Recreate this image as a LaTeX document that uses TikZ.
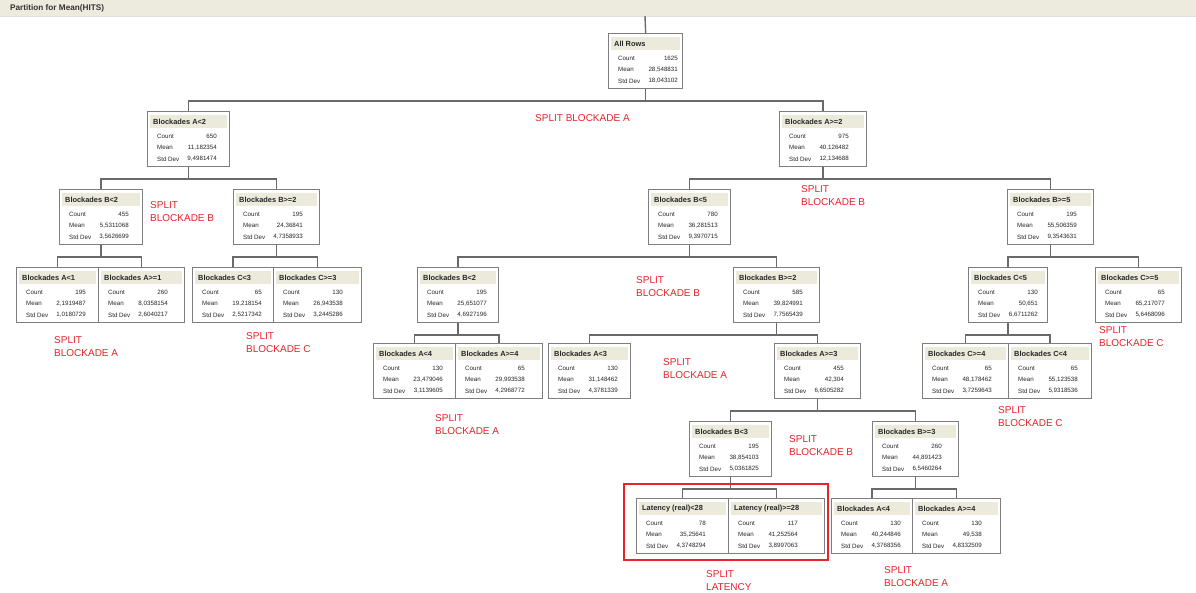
\documentclass[tikz,border=0pt]{standalone}
\usepackage{fontspec}
\setmainfont{Liberation Sans}
\usetikzlibrary{calc}

\definecolor{hdrfill}{HTML}{ECEADB}
\definecolor{barfill}{HTML}{ECEBDE}
\definecolor{boxline}{HTML}{7E7E7E}
\definecolor{conn}{HTML}{6A6A6A}
\definecolor{splitred}{HTML}{E8232B}

\tikzset{
  statbox/.style={draw=boxline, fill=white, line width=1.3pt, rectangle,
    inner sep=0pt, minimum height=55pt, anchor=north west},
  boxtitle/.style={font=\bfseries\fontsize{7.4}{8}\selectfont, inner sep=0pt,
    anchor=west, text=black!85},
  statlbl/.style={font=\fontsize{6.2}{7}\selectfont, inner sep=0pt, anchor=west, text=black!85},
  statval/.style={font=\fontsize{6.2}{7}\selectfont, inner sep=0pt, anchor=east, text=black!85},
  link/.style={draw=conn, line width=1.4pt},
  splitnote/.style={font=\fontsize{10}{13}\selectfont, text=splitred, align=left,
    inner sep=0pt, anchor=north west},
}

% statistics box: name, left, top, width, title, count, mean, std dev
\newcommand\statnode[8]{%
  \node[statbox, minimum width=#4pt] (#1) at (#2,#3) {};
  \fill[hdrfill] ($(#1.north west)+(3,4)$) rectangle ($(#1.north east)+(-3,17)$);
  \node[boxtitle] (#1-t) at ($(#1.north west)+(6,10.5)$) {#5};
  \node[statlbl] (#1-cl) at ($(#1.north west)+(10,25)$) {Count};
  \node[statval] (#1-cv) at ($(#1.north west)+(70,25)$) {#6};
  \node[statlbl] (#1-ml) at ($(#1.north west)+(10,36.5)$) {Mean};
  \node[statval] (#1-mv) at ($(#1.north west)+(70,36.5)$) {#7};
  \node[statlbl] (#1-sl) at ($(#1.north west)+(10,48)$) {Std Dev};
  \node[statval] (#1-sv) at ($(#1.north west)+(70,48)$) {#8};
}

% parent to its two children
\newcommand\branch[3]{%
  \draw[link] (#1.south) -- ++(0,11.5) coordinate (#1-j);
  \draw[link] (#2.north) |- (#1-j) -| (#3.north);
}

% red split annotation: name, left, centre of first line, text
\newcommand\splitlabel[4]{%
  \node[splitnote] (#1) at (#2,#3-3.6) {#4};
}

\begin{document}
\begin{tikzpicture}[x=1pt, y=-1pt]
  \useasboundingbox (0,0) rectangle (1196,592);
  \fill[white] (0,0) rectangle (1196,592);

  % title bar
  \fill[barfill] (0,0) rectangle (1196,16);
  \draw[black!12] (0,16) -- (1196,16);
  \node[font=\bfseries\fontsize{8.2}{9}\selectfont, text=black!80, anchor=west, inner sep=0pt]
    (title) at (10,8.5) {Partition for Mean(HITS)};

  % boxes
  \statnode{root}{608}{33}{74}{All Rows}{1625}{28,548831}{18,043102}

  \statnode{a2l}{147}{111}{82}{Blockades A<2}{650}{11,182354}{9,4981474}
  \statnode{a2r}{779}{111}{87}{Blockades A>=2}{975}{40,126482}{12,134688}

  \statnode{bl2}{59}{189}{83}{Blockades B<2}{455}{5,5311068}{3,5626699}
  \statnode{bl2r}{233}{189}{86}{Blockades B>=2}{195}{24,36841}{4,7358933}
  \statnode{b5l}{648}{189}{82}{Blockades B<5}{780}{36,281513}{9,3970715}
  \statnode{b5r}{1007}{189}{86}{Blockades B>=5}{195}{55,506359}{9,3543631}

  \statnode{a1l}{16}{267}{82}{Blockades A<1}{195}{2,1919487}{1,0180729}
  \statnode{a1r}{98}{267}{86}{Blockades A>=1}{260}{8,0358154}{2,6040217}
  \statnode{c3l}{192}{267}{81}{Blockades C<3}{65}{19,218154}{2,5217342}
  \statnode{c3r}{273}{267}{88}{Blockades C>=3}{130}{26,943538}{3,2445286}
  \statnode{mb2l}{417}{267}{81}{Blockades B<2}{195}{25,651077}{4,6927196}
  \statnode{mb2r}{733}{267}{86}{Blockades B>=2}{585}{39,824991}{7,7565439}
  \statnode{c5l}{968}{267}{79}{Blockades C<5}{130}{50,651}{6,6711262}
  \statnode{c5r}{1095}{267}{86}{Blockades C>=5}{65}{65,217077}{5,6468096}

  \statnode{ma4l}{373}{343}{82}{Blockades A<4}{130}{23,479046}{3,1139605}
  \statnode{ma4r}{455}{343}{87}{Blockades A>=4}{65}{29,993538}{4,2968772}
  \statnode{ma3l}{548}{343}{82}{Blockades A<3}{130}{31,148462}{4,3781339}
  \statnode{ma3r}{774}{343}{86}{Blockades A>=3}{455}{42,304}{6,6505282}
  \statnode{c4l}{922}{343}{86}{Blockades C>=4}{65}{48,178462}{3,7259643}
  \statnode{c4r}{1008}{343}{83}{Blockades C<4}{65}{55,123538}{5,9318536}

  \statnode{b3l}{689}{421}{82}{Blockades B<3}{195}{38,854103}{5,0361825}
  \statnode{b3r}{872}{421}{86}{Blockades B>=3}{260}{44,891423}{6,5460264}

  \statnode{latl}{636}{498}{92}{Latency (real)<28}{78}{35,25641}{4,3748294}
  \statnode{latr}{728}{498}{96}{Latency (real)>=28}{117}{41,252564}{3,8997063}
  \statnode{ba4l}{831}{498}{81}{Blockades A<4}{130}{40,244846}{4,3768356}
  \statnode{ba4r}{912}{498}{88}{Blockades A>=4}{130}{49,538}{4,8332509}

  % connectors
  \coordinate (top) at (645,16);
  \draw[link] (top) -- (root.north);
  \branch{root}{a2l}{a2r}
  \branch{a2l}{bl2}{bl2r}
  \branch{a2r}{b5l}{b5r}
  \branch{bl2}{a1l}{a1r}
  \branch{bl2r}{c3l}{c3r}
  \branch{b5l}{mb2l}{mb2r}
  \branch{b5r}{c5l}{c5r}
  \branch{mb2l}{ma4l}{ma4r}
  \branch{mb2r}{ma3l}{ma3r}
  \branch{c5l}{c4l}{c4r}
  \branch{ma3r}{b3l}{b3r}
  \branch{b3l}{latl}{latr}
  \branch{b3r}{ba4l}{ba4r}

  % highlighted latency split
  \draw[splitred, line width=1.4pt] (624,484) rectangle (828,560);

  % split annotations
  \splitlabel{s0}{535}{118}{SPLIT BLOCKADE A}
  \splitlabel{s1}{150}{205}{SPLIT\\BLOCKADE B}
  \splitlabel{s2}{801}{189}{SPLIT\\BLOCKADE B}
  \splitlabel{s3}{636}{280}{SPLIT\\BLOCKADE B}
  \splitlabel{s4}{54}{340}{SPLIT\\BLOCKADE A}
  \splitlabel{s5}{246}{336}{SPLIT\\BLOCKADE C}
  \splitlabel{s6}{1099}{330}{SPLIT\\BLOCKADE C}
  \splitlabel{s7}{435}{418}{SPLIT\\BLOCKADE A}
  \splitlabel{s8}{663}{362}{SPLIT\\BLOCKADE A}
  \splitlabel{s9}{998}{410}{SPLIT\\BLOCKADE C}
  \splitlabel{s10}{789}{439}{SPLIT\\BLOCKADE B}
  \splitlabel{s11}{706}{574}{SPLIT\\LATENCY}
  \splitlabel{s12}{884}{570}{SPLIT\\BLOCKADE A}
\end{tikzpicture}
\end{document}
